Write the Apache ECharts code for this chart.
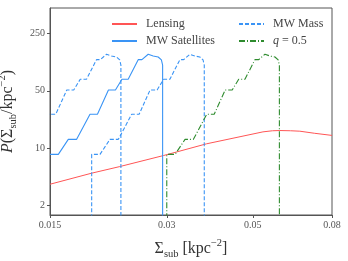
<!DOCTYPE html>
<html><head><meta charset="utf-8">
<script src="https://cdn.jsdelivr.net/npm/echarts@6/dist/echarts.min.js"></script>
<style>html,body{margin:0;padding:0;background:#fff}#c{width:348px;height:261px}</style>
</head><body><div id="c"></div>
<script>
// ---- axis ticks ----
const xTicks = [0.015, 0.03, 0.05, 0.08];
const xTickLabels = ['0.015', '0.03', '0.05', '0.08'];
const yTicks = [2, 10, 50, 250];
const yTickLabels = ['2', '10', '50', '250'];
const xRange = [0.015, 0.08];
const yRange = [1.53, 512];

// ---- Lensing ----
const lensingX = [0.015, 0.0192, 0.0227, 0.0294, 0.038, 0.0531, 0.0562, 0.0587, 0.0625, 0.0661, 0.072, 0.08];
const lensingY = [3.63, 4.95, 5.96, 8.12, 11.3, 15.8, 16.3, 16.4, 16.3, 16.1, 15.2, 14.3];

// ---- MW Satellites ----
const satellitesX = [0.01500, 0.01576, 0.01672, 0.01757, 0.01902, 0.01988, 0.02122, 0.02212, 0.02299, 0.02386, 0.02532, 0.02589, 0.02687, 0.02768, 0.02851, 0.02906, 0.02927, 0.02927];
const satellitesY = [8.4, 8.4, 12.8, 12.8, 25.9, 25.9, 51.2, 51.2, 69.2, 69.2, 120, 120, 139.6, 133, 129.4, 119, 103, 1];

// ---- MW Mass (two curves) ----
const massLowX = [0.01171, 0.01231, 0.01306, 0.01372, 0.01485, 0.01552, 0.01657, 0.01727, 0.01795, 0.01863, 0.01977, 0.02022, 0.02098, 0.02161, 0.02226, 0.02269, 0.02285, 0.02285];
const massLowY = [8.4, 8.4, 12.8, 12.8, 25.9, 25.9, 51.2, 51.2, 69.2, 69.2, 120, 120, 139.6, 133, 129.4, 119, 103, 1];
const massHighX = [0.01921, 0.01921, 0.02018, 0.02141, 0.02250, 0.02436, 0.02546, 0.02717, 0.02833, 0.02944, 0.03056, 0.03243, 0.03316, 0.03441, 0.03545, 0.03651, 0.03721, 0.03748, 0.03748];
const massHighY = [1, 8.4, 8.4, 12.8, 12.8, 25.9, 25.9, 51.2, 51.2, 69.2, 69.2, 120, 120, 139.6, 133, 129.4, 119, 103, 1];

// ---- q = 0.5 ----
const q05X = [0.03, 0.03, 0.03152, 0.03344, 0.03514, 0.03804, 0.03976, 0.04244, 0.04424, 0.04598, 0.04772, 0.05064, 0.05178, 0.05374, 0.05536, 0.05702, 0.05812, 0.05854, 0.05854];
const q05Y = [1, 8.4, 8.4, 12.8, 12.8, 25.9, 25.9, 51.2, 51.2, 69.2, 69.2, 120, 120, 139.6, 133, 129.4, 119, 103, 1];

const L = Math.log10;
function pts(xs, ys) { return xs.map((x, i) => [L(x), L(ys[i])]); }
function lab(v, ticks, labels) {
  for (let i = 0; i < ticks.length; i++) if (Math.abs(L(ticks[i]) - v) < 1e-6) return labels[i];
  return '';
}
const serif = '"Liberation Serif", "DejaVu Serif", serif';
const axisCol = '#555';
const blue = '#3a94f5', red = '#ff5555', green = '#2e8b2e';

const nameRich = {
  m: { fontFamily: serif, fontSize: 16, color: '#333', lineHeight: 22, verticalAlign: 'middle' },
  p: { fontFamily: serif, fontSize: 16, color: '#333', lineHeight: 22, verticalAlign: 'middle', fontStyle: 'italic' },
  sub: { fontFamily: serif, fontSize: 10.5, color: '#333', lineHeight: 11, verticalAlign: 'bottom' },
  sup: { fontFamily: serif, fontSize: 10.5, color: '#333', lineHeight: 11, verticalAlign: 'top' }
};

const chart = echarts.init(document.getElementById('c'), null, { renderer: 'canvas' });
const legendText = {
  fontFamily: serif, fontSize: 12, color: '#444', lineHeight: 12, padding: [0, 0, 0, 4],
  rich: { i: { fontFamily: serif, fontSize: 12, color: '#444', fontStyle: 'italic' }, n: { fontFamily: serif, fontSize: 12, color: '#444' } }
};
const legendFmt = name => name === 'q = 0.5' ? '{i|q}{n| = 0.5}' : name;
const legendCommon = { orient: 'vertical', top: 13, padding: 5, itemWidth: 25, itemHeight: 10, itemGap: 5,
  textStyle: legendText, formatter: legendFmt, itemStyle: { opacity: 0, borderWidth: 0 } };

chart.setOption({
  animation: false,
  grid: { left: 50, top: 8, width: 282, height: 207, show: true, borderColor: axisCol, borderWidth: 1,
    containLabel: false, outerBoundsMode: 'none' },
  legend: [
    Object.assign({ left: 106, data: ['Lensing', 'MW Satellites'] }, legendCommon),
    Object.assign({ left: 233, data: ['MW Mass', 'q = 0.5'] }, legendCommon)
  ],
  xAxis: {
    type: 'value', min: L(xRange[0]), max: L(xRange[1]),
    axisLine: { show: true, onZero: false, lineStyle: { color: axisCol } },
    axisTick: { show: true, customValues: xTicks.map(L), length: 3, lineStyle: { color: axisCol } },
    axisLabel: { customValues: xTicks.map(L), formatter: v => lab(v, xTicks, xTickLabels), margin: 5, color: axisCol, fontFamily: serif, fontSize: 10 },
    splitLine: { show: false },
    name: '{m|Σ}{sub|sub}{m| [kpc}{sup|−2}{m|]}', nameLocation: 'middle', nameGap: 23,
    nameTextStyle: { rich: nameRich }
  },
  yAxis: {
    type: 'value', min: L(yRange[0]), max: L(yRange[1]),
    axisLine: { show: true, onZero: false, lineStyle: { color: axisCol } },
    axisTick: { show: true, customValues: yTicks.map(L), length: 3, lineStyle: { color: axisCol } },
    axisLabel: { customValues: yTicks.map(L), formatter: v => lab(v, yTicks, yTickLabels), margin: 5, color: axisCol, fontFamily: serif, fontSize: 10 },
    splitLine: { show: false },
    name: '{p|P}{m|(Σ}{sub|sub}{m|/kpc}{sup|−2}{m|)}', nameLocation: 'middle', nameRotate: 90, nameGap: 21,
    nameTextStyle: { rich: nameRich }
  },
  series: [
    { type: 'line', name: 'Lensing', data: pts(lensingX, lensingY), symbol: 'none', clip: true,
      lineStyle: { color: red, width: 1 }, itemStyle: { color: red } },
    { type: 'line', name: 'MW Satellites', data: pts(satellitesX, satellitesY), symbol: 'none', clip: true,
      lineStyle: { color: blue, width: 1.1 }, itemStyle: { color: blue } },
    { type: 'line', name: 'MW Mass', data: pts(massLowX, massLowY), symbol: 'none', clip: true,
      lineStyle: { color: blue, width: 1.1, type: [4, 2] }, itemStyle: { color: blue } },
    { type: 'line', name: 'MW Mass', data: pts(massHighX, massHighY), symbol: 'none', clip: true,
      lineStyle: { color: blue, width: 1.1, type: [4, 2] }, itemStyle: { color: blue } },
    { type: 'line', name: 'q = 0.5', data: pts(q05X, q05Y), symbol: 'none', clip: true,
      lineStyle: { color: green, width: 1.1, type: [6, 2, 1, 2] }, itemStyle: { color: green } }
  ]
});
</script>
</body></html>
